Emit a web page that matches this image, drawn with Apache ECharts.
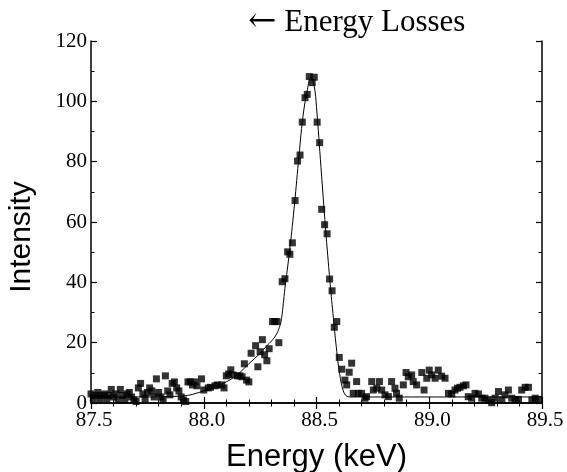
<!DOCTYPE html>
<html>
<head>
<meta charset="utf-8">
<script src="https://cdn.jsdelivr.net/npm/echarts@6/dist/echarts.min.js"></script>
<style>
  html, body { margin: 0; padding: 0; background: #fff; }
  #main { width: 567px; height: 472px; }
</style>
</head>
<body>
<div id="main"></div>
<script>
// measured points [energy keV, intensity]
var measured = [
  [87.50, 3], [87.51, 1.5], [87.52, 2.5], [87.53, 3.5], [87.54, 1.5], [87.55, 2.5],
  [87.56, 3], [87.57, 1.5], [87.58, 2.5], [87.59, 4.5], [87.60, 2], [87.61, 3],
  [87.62, 1], [87.63, 4.5], [87.64, 2.5], [87.65, 1], [87.66, 3], [87.67, 3.5],
  [87.68, 2], [87.69, 1], [87.70, 0.5], [87.71, 5], [87.72, 6.5], [87.73, 3],
  [87.74, 1.5], [87.75, 3.5], [87.76, 5], [87.77, 4], [87.78, 2], [87.79, 8],
  [87.80, 3.5], [87.81, 2], [87.82, 1], [87.83, 9], [87.84, 4], [87.85, 2.7],
  [87.86, 6.5], [87.87, 7], [87.88, 5], [87.89, 4], [87.90, 2], [87.91, 1],
  [87.92, 0.5], [87.93, 7], [87.94, 7], [87.95, 6], [87.96, 7], [87.97, 5.7],
  [87.99, 8], [88.00, 4.3], [88.02, 5], [88.03, 5.2], [88.05, 5.7], [88.06, 6],
  [88.08, 6], [88.09, 5], [88.10, 9], [88.11, 9.6], [88.12, 11], [88.13, 9.3],
  [88.15, 9], [88.16, 9], [88.18, 13], [88.17, 8.7], [88.19, 7.6], [88.20, 7],
  [88.21, 16.5], [88.23, 19], [88.24, 12], [88.25, 17], [88.26, 21], [88.27, 16],
  [88.28, 14], [88.29, 18], [88.305, 27], [88.315, 27], [88.325, 27], [88.333, 20],
  [88.348, 40.2], [88.36, 41.2], [88.372, 50.1], [88.382, 49.3], [88.393, 53.1],
  [88.405, 67.1], [88.416, 80.2], [88.427, 82.2], [88.437, 93.1], [88.449, 101.2],
  [88.459, 102.3], [88.468, 108.2], [88.481, 106.2], [88.49, 108], [88.503, 93.1],
  [88.514, 86.3], [88.523, 64.2], [88.536, 59.1], [88.547, 56.1], [88.558, 41.1],
  [88.569, 37.2], [88.579, 25.1], [88.59, 27], [88.601, 15.1], [88.612, 11.2],
  [88.626, 7.6], [88.634, 6], [88.645, 10.2], [88.656, 13.2], [88.663, 3.2],
  [88.678, 7.1], [88.685, 3.2], [88.70, 3.2], [88.715, 1.6], [88.722, 2.1],
  [88.745, 7.1], [88.752, 4.3], [88.767, 4.9], [88.779, 7.1], [88.789, 4.3],
  [88.804, 2.7], [88.819, 2.1], [88.833, 7.1], [88.848, 4.9], [88.855, 3.2],
  [88.867, 1.6], [88.885, 6], [88.897, 10.1], [88.907, 8.7], [88.922, 9.3],
  [88.929, 7.1], [88.944, 6], [88.967, 10.1], [88.977, 4.3], [88.989, 8.2],
  [89.00, 10.9], [89.011, 9.3], [89.026, 8.2], [89.04, 10.9], [89.055, 8.9],
  [89.07, 8.2], [89.085, 3.2], [89.10, 3], [89.114, 4.3], [89.125, 4.9],
  [89.136, 5.2], [89.151, 5.7], [89.163, 6], [89.173, 2.1], [89.188, 1.6],
  [89.203, 3.2], [89.218, 3], [89.233, 1.6], [89.247, 1.6], [89.262, 1],
  [89.277, 0.1], [89.292, 1.6], [89.307, 3.8], [89.322, 1], [89.336, 2.7],
  [89.351, 4.3], [89.366, 1.6], [89.381, 1], [89.396, 1.2], [89.41, 4.3],
  [89.425, 5.2], [89.44, 5.2], [89.455, 1], [89.47, 1.6], [89.485, 1.2]
];

// fitted curve
var fitCurve = [
  [87.50, 2], [87.70, 2], [87.90, 2.3], [88.00, 4], [88.10, 7], [88.15, 9.5],
  [88.20, 13], [88.25, 16.5], [88.28, 19], [88.30, 20.5], [88.32, 22.5],
  [88.335, 25], [88.345, 28], [88.36, 38], [88.38, 50], [88.40, 64], [88.42, 80],
  [88.44, 95], [88.46, 104], [88.475, 108], [88.49, 105], [88.50, 98],
  [88.52, 78], [88.54, 58], [88.56, 40], [88.575, 28], [88.59, 17], [88.60, 11],
  [88.615, 5], [88.63, 2.5], [88.65, 2], [89.50, 2]
];

var xTicks = { min: 87.5, max: 89.5, step: 0.5 };
var yTicks = { min: 0, max: 120, step: 20 };

var chart = echarts.init(document.getElementById('main'));

var axisLine = { show: true, lineStyle: { color: '#000', width: 1.5 } };
var tick = { show: true, inside: true, length: 6, lineStyle: { color: '#000', width: 1.2 } };
var minor = { show: true, splitNumber: 5, length: 3.5, lineStyle: { color: '#000', width: 1 } };
var serifLabel = { color: '#000', fontFamily: 'Liberation Serif', fontSize: 21 };

var option = {
  animation: false,
  backgroundColor: '#fff',
  title: {
    text: '{a|\u2190} Energy Losses',
    left: 243,
    top: 0,
    textStyle: {
      fontFamily: 'Liberation Serif', fontSize: 31, fontWeight: 'normal', color: '#000',
      rich: { a: { fontFamily: 'DejaVu Serif', fontSize: 34, color: '#000', padding: [0, 0, 2, 0] } }
    }
  },
  grid: { left: 91, right: 25, top: 41, bottom: 69, outerBoundsMode: 'none' },
  xAxis: [
    {
      type: 'value', min: xTicks.min, max: xTicks.max, interval: xTicks.step,
      axisLine: axisLine, axisTick: tick, minorTick: minor, splitLine: { show: false },
      axisLabel: Object.assign({ margin: 7, padding: [0, 0, 0, 6], formatter: function (v) { return v.toFixed(1); } }, serifLabel),
      name: 'Energy (keV)', nameLocation: 'middle', nameGap: 39,
      nameTextStyle: { fontFamily: 'Liberation Sans', fontSize: 31, color: '#000' }
    },
    {
      type: 'value', position: 'top', min: xTicks.min, max: xTicks.max, interval: xTicks.step,
      axisLine: axisLine, axisTick: tick, minorTick: minor, splitLine: { show: false },
      axisLabel: { show: false }
    }
  ],
  yAxis: [
    {
      type: 'value', min: yTicks.min, max: yTicks.max, interval: yTicks.step,
      axisLine: axisLine, axisTick: tick, minorTick: Object.assign({}, minor, { splitNumber: 2 }),
      splitLine: { show: false },
      axisLabel: Object.assign({ margin: 4 }, serifLabel),
      name: 'Intensity', nameLocation: 'middle', nameGap: 54,
      nameTextStyle: { fontFamily: 'Liberation Sans', fontSize: 30, color: '#000', padding: [0, 30, 0, 0] }
    },
    {
      type: 'value', position: 'right', min: yTicks.min, max: yTicks.max, interval: yTicks.step,
      axisLine: axisLine, axisTick: tick, minorTick: Object.assign({}, minor, { splitNumber: 2 }),
      splitLine: { show: false }, axisLabel: { show: false }
    }
  ],
  series: [
    {
      name: 'fit', type: 'line', data: fitCurve, smooth: 0.4, showSymbol: false,
      lineStyle: { color: '#000', width: 1 }, z: 2
    },
    {
      name: 'data', type: 'scatter', data: measured, symbol: 'rect', symbolSize: 7,
      itemStyle: { color: '#000' }, z: 3
    }
  ]
};

chart.setOption(option);

window.addEventListener('resize', function () {
  chart.resize();
});
</script>
</body>
</html>
